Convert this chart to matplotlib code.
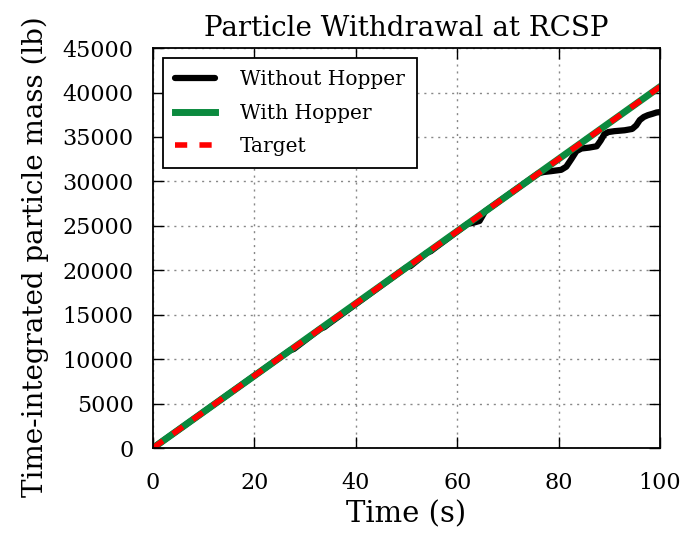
import matplotlib
matplotlib.use("Agg")
import matplotlib.pyplot as plt

# Time axis (s)
time_s = [0, 100]
# Target withdrawal (lb), linear at the nominal rate
target_mass = [0, 40650]
with_hopper_mass = [0, 40650]

# Measured withdrawal without the hopper (lb)
without_time = [0, 27.0, 27.8, 28.6, 33.0, 33.8, 34.6, 50.0, 50.8, 51.6,
                54.0, 54.8, 55.6, 62.0, 63.2, 64.4, 65.5, 76.0, 77.0, 78.5,
                80.5, 81.5, 82.5, 83.5, 84.5, 86.0, 87.5, 88.3, 89.0, 89.8,
                91.0, 93.0, 94.5, 95.3, 96.0, 96.8, 97.6, 98.5, 99.3, 100.0]
without_mass = [0, 10975, 11150, 11500, 13415, 13600, 13950, 20325, 20480, 20850,
                21950, 22150, 22500, 25200, 25350, 25550, 26630, 30900, 31050, 31150,
                31300, 31650, 32500, 33400, 33700, 33800, 33950, 34600, 35300, 35550,
                35650, 35750, 35900, 36300, 36900, 37250, 37450, 37600, 37750, 37800]

x_ticks = [0, 20, 40, 60, 80, 100]
y_ticks = [0, 5000, 10000, 15000, 20000, 25000, 30000, 35000, 40000, 45000]

plt.rcParams["font.family"] = ["DejaVu Serif"]

fig = plt.figure(figsize=(6.89, 5.34), dpi=100)
ax = fig.add_axes([0.222, 0.161, 0.736, 0.749])

ax.plot(without_time, without_mass, color="black", lw=4.5, label="Without Hopper",
        solid_capstyle="round", solid_joinstyle="round")
ax.plot(time_s, with_hopper_mass, color="#0b8a3e", lw=5, label="With Hopper")
ax.plot(time_s, target_mass, color="#ff0000", lw=4, ls=(0, (2.2, 2.2)), label="Target")

ax.set_xlim(0, 100)
ax.set_ylim(0, 45000)
ax.set_xticks(x_ticks)
ax.set_yticks(y_ticks)
ax.grid(True, color="#888888", ls=(0, (1.5, 3.5)), lw=1.0)
ax.tick_params(direction="in", length=8, width=1, top=True, right=True,
               labelsize=16)
ax.tick_params(axis="x", pad=17)
ax.tick_params(axis="y", pad=14)
for s in ax.spines.values():
    s.set_linewidth(1.3)

ax.set_title("Particle Withdrawal at RCSP", fontsize=20, pad=9)
ax.set_xlabel("Time (s)", fontsize=21, labelpad=5)
ax.set_ylabel("Time-integrated particle mass (lb)", fontsize=20)
ax.yaxis.set_label_coords(-0.205, 0.478)

leg = ax.legend(loc="upper left", fontsize=14.5, fancybox=False, framealpha=1,
                edgecolor="black", handlelength=2.0, borderpad=0.6,
                labelspacing=0.72, handletextpad=1.2)
leg.get_frame().set_linewidth(1.3)

fig.savefig("out.png", dpi=100)
